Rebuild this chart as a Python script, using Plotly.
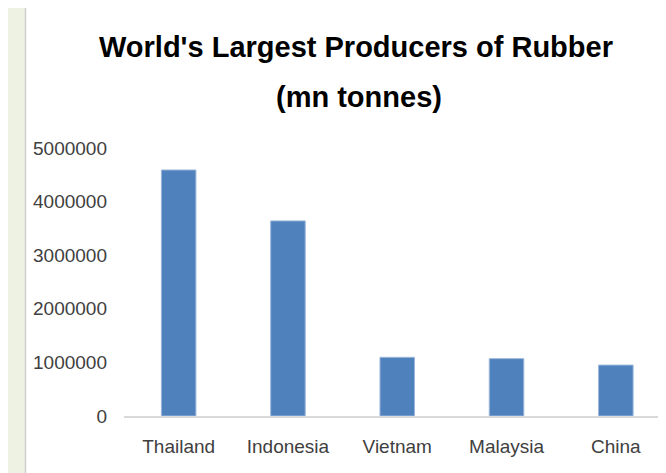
import plotly.graph_objects as go

countries = ["Thailand", "Indonesia", "Vietnam", "Malaysia", "China"]
production = [4590000, 3640000, 1095000, 1070000, 950000]
y_ticks = [0, 1000000, 2000000, 3000000, 4000000, 5000000]
title_line1 = "World's Largest Producers of Rubber"
title_line2 = "(mn tonnes)"

# page has an 8px body margin, so the figure is shrunk by 8px
OFF = 8
W, H = 666 - OFF, 473 - OFF
L, R, T, B = 124 - OFF, 0, 148 - OFF, 57
pw, ph = W - L - R, H - T - B

def px_x(sx):
    return (sx - OFF - L) / pw

def px_y(sy):
    return (H - B - (sy - OFF)) / ph

fig = go.Figure(go.Bar(
    x=countries,
    y=production,
    width=0.316,
    marker=dict(color="#4f81bd", line=dict(color="#9db7da", width=1)),
))

font_main = "Liberation Sans, Arial, sans-serif"

fig.update_layout(
    width=W, height=H,
    margin=dict(l=L, r=R, t=T, b=B, pad=0),
    paper_bgcolor="white",
    plot_bgcolor="white",
    showlegend=False,
    xaxis=dict(
        range=[-0.5, 4.459],
        showgrid=False,
        showline=True, linecolor="#d9d9d9", linewidth=2,
        ticks="", tickfont=dict(family=font_main, size=19, color="#404040"),
        ticklabelstandoff=12,
        zeroline=False,
    ),
    yaxis=dict(
        range=[0, 5000000],
        tickvals=y_ticks,
        tickformat="d",
        showgrid=False, zeroline=False, showline=False,
        ticks="", tickfont=dict(family=font_main, size=19, color="#404040"),
        ticklabelstandoff=16,
    ),
    shapes=[
        # left green strip
        dict(type="rect", xref="paper", yref="paper",
             x0=px_x(OFF), x1=px_x(25), y0=px_y(473), y1=px_y(OFF),
             fillcolor="#eef2e2", line=dict(width=0), layer="below"),
        # panel border line
        dict(type="line", xref="paper", yref="paper",
             x0=px_x(25.5), x1=px_x(25.5), y0=px_y(473), y1=px_y(OFF),
             line=dict(color="#d0d0d0", width=1.5), layer="below"),
    ],
    annotations=[
        dict(text="<b>" + title_line1 + "</b>", xref="paper", yref="paper",
             x=px_x(356), y=px_y(47), xanchor="center", yanchor="middle",
             showarrow=False,
             font=dict(family=font_main, size=29, color="black")),
        dict(text="<b>" + title_line2 + "</b>", xref="paper", yref="paper",
             x=px_x(359), y=px_y(97), xanchor="center", yanchor="middle",
             showarrow=False,
             font=dict(family=font_main, size=29, color="black")),
    ],
)

fig.write_html("out.html")
